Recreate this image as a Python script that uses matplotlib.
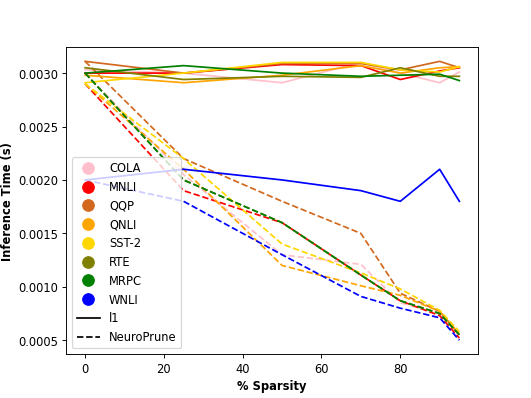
import matplotlib
matplotlib.use("Agg")
import matplotlib.pyplot as plt
from matplotlib.lines import Line2D

# % sparsity levels
sparsity = [0, 25, 50, 70, 80, 90, 95]

tasks = ["COLA", "MNLI", "QQP", "QNLI", "SST-2", "RTE", "MRPC", "WNLI"]
colors = ["pink", "red", "chocolate", "orange", "gold", "olive", "green", "blue"]

# l1 inference time (s)
cola_l1 = [0.00303, 0.00300, 0.00291, 0.00310, 0.00300, 0.00291, 0.00301]
mnli_l1 = [0.00300, 0.00300, 0.00308, 0.00307, 0.00294, 0.00302, 0.00305]
qqp_l1 = [0.00311, 0.00300, 0.00309, 0.00309, 0.00303, 0.00311, 0.00305]
qnli_l1 = [0.00298, 0.00291, 0.00298, 0.00307, 0.00300, 0.00305, 0.00306]
sst2_l1 = [0.00291, 0.00300, 0.00310, 0.00310, 0.00303, 0.00301, 0.00306]
rte_l1 = [0.00305, 0.00294, 0.00297, 0.00296, 0.00305, 0.00297, 0.00297]
mrpc_l1 = [0.00300, 0.00307, 0.00300, 0.00297, 0.00298, 0.00299, 0.00293]
wnli_l1 = [0.00200, 0.00210, 0.00200, 0.00190, 0.00180, 0.00210, 0.00180]

# NeuroPrune inference time (s)
cola_np = [0.00300, 0.00205, 0.00130, 0.00121, 0.00085, 0.00075, 0.00055]
mnli_np = [0.00290, 0.00190, 0.00160, 0.00111, 0.00087, 0.00073, 0.00052]
qqp_np = [0.00311, 0.00220, 0.00180, 0.00150, 0.00094, 0.00077, 0.00055]
qnli_np = [0.00290, 0.00210, 0.00120, 0.00101, 0.00092, 0.00077, 0.00056]
sst2_np = [0.00290, 0.00220, 0.00140, 0.00113, 0.00098, 0.00078, 0.00058]
rte_np = [0.00300, 0.00200, 0.00160, 0.00111, 0.00087, 0.00075, 0.00055]
mrpc_np = [0.00300, 0.00200, 0.00160, 0.00111, 0.00087, 0.00075, 0.00055]
wnli_np = [0.00200, 0.00180, 0.00130, 0.00091, 0.00080, 0.00071, 0.00050]

l1_all = [cola_l1, mnli_l1, qqp_l1, qnli_l1, sst2_l1, rte_l1, mrpc_l1, wnli_l1]
np_all = [cola_np, mnli_np, qqp_np, qnli_np, sst2_np, rte_np, mrpc_np, wnli_np]

fig, ax = plt.subplots(figsize=(6.4, 4.8), dpi=83)
for c, l1, npv in zip(colors, l1_all, np_all):
    ax.plot(sparsity, l1, color=c, linestyle="-")
    ax.plot(sparsity, npv, color=c, linestyle="--")

ax.set_xlabel("% Sparsity", fontweight="bold")
ax.set_ylabel("Inference Time (s)", fontweight="bold")

handles = [Line2D([], [], color=c, marker="o", linestyle="None", markersize=10, label=t)
           for t, c in zip(tasks, colors)]
handles.append(Line2D([], [], color="black", linestyle="-", label="l1"))
handles.append(Line2D([], [], color="black", linestyle="--", label="NeuroPrune"))
ax.legend(handles=handles, loc="lower left")

fig.savefig("out.png", dpi=83)
